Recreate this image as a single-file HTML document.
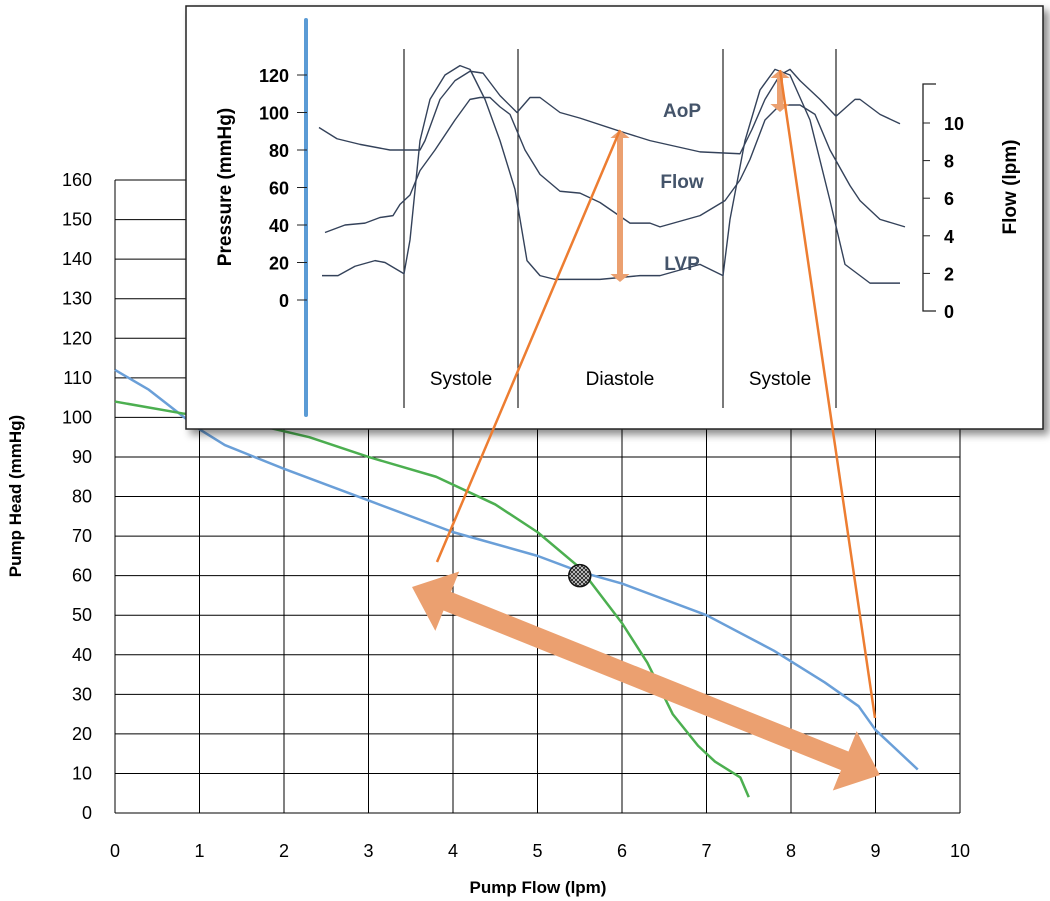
<!DOCTYPE html>
<html><head><meta charset="utf-8"><style>
body{margin:0;background:#fff;width:1050px;height:901px;overflow:hidden;font-family:"Liberation Sans",sans-serif}
</style></head><body>
<svg id="s" width="1050" height="901" style="position:absolute;left:0;top:0">
<defs>
<filter id="sh" x="-5%" y="-5%" width="115%" height="115%"><feDropShadow dx="5" dy="5" stdDeviation="4" flood-color="#000" flood-opacity="0.45"/></filter>
<pattern id="hatch" width="4" height="4" patternUnits="userSpaceOnUse"><rect width="4" height="4" fill="#fff"/><path d="M0 0L4 4M4 0L0 4" stroke="#333" stroke-width="1.2"/></pattern>
</defs>
<g id="main"></g>
<g id="inset"></g>
<g id="over"></g>
</svg>
<script>
const xTicks=[0,1,2,3,4,5,6,7,8,9,10];
const yTicks=[0,10,20,30,40,50,60,70,80,90,100,110,120,130,140,150,160];
const blueFlow=[0,0.4,1,1.3,2,3,4,5,5.5,6,7,7.8,8.4,8.8,9,9.5];
const blueHead=[112,107,97,93,87,79,71,65,61,58,50,41,33,27,21,11];
const greenFlow=[0,0.8,1.5,2.3,3,3.8,4.5,5,5.5,6,6.3,6.6,6.9,7.1,7.4,7.5];
const greenHead=[104,101,99,95,90,85,78,71,62,48,38,25,17,13,9,4];
const opPoint=[5.5,60];
const pTicks=[0,20,40,60,80,100,120];
const fTicks=[0,2,4,6,8,10];
const waveT_aop=[0,18,41,71,101,106,121,136,151,164,181,198,211,221,241,261,301,331,381,421,433,446,461,471,481,501,517,536,541,561,581];
const waveP_aop=[92,86,83,80,80,85,107,117,122,121,109,100,108,108,100,97,90,85,79,78,91,107,120,123,117,107,98,107,107,99,94];
const waveT_flow=[6,16,26,46,61,74,81,91,101,116,136,151,161,171,181,191,206,221,241,261,281,311,331,341,361,381,406,421,431,446,461,481,496,511,531,541,561,586];
const waveP_flow=[36,38,40,41,44,45,51,56,69,80,96,107,108,108,103,99,80,67,58,57,52,41,41,39,42,45,53,64,75,96,104,104,99,80,61,53,43,39];
const waveT_lvp=[3,19,36,56,66,85,91,101,111,126,141,151,166,181,196,208,221,236,281,321,341,361,381,404,411,426,441,456,471,491,511,526,551,581];
const waveP_lvp=[13,13,18,21,20,14,32,85,107,120,125,123,107,85,59,21,13,11,11,13,13,16,19,13,43,85,112,123,120,96,53,19,9,9];

const NS="http://www.w3.org/2000/svg";
function el(p,t,a){const e=document.createElementNS(NS,t);for(const k in a)e.setAttribute(k,a[k]);p.appendChild(e);return e;}
const X=v=>115+v*84.5, Y=v=>813-v*3.956;
const TX=t=>319+t, PY=p=>300-p*1.875, FY=f=>311-f*18.8;
const main=document.getElementById('main'),inset=document.getElementById('inset'),over=document.getElementById('over');

xTicks.forEach(v=>{const l=el(main,'line',{x1:X(v),x2:X(v),y1:Y(160),y2:Y(0),stroke:'#000','stroke-width':1});

const t=el(main,'text',{x:X(v),y:857,'text-anchor':'middle','font-size':18});t.textContent=v;
});
yTicks.forEach(v=>{const l=el(main,'line',{x1:X(0),x2:X(10),y1:Y(v),y2:Y(v),stroke:'#000','stroke-width':1});

const t=el(main,'text',{x:92,y:Y(v)+6,'text-anchor':'end','font-size':18});t.textContent=v;
});
let t=el(main,'text',{x:538,y:893,'text-anchor':'middle','font-size':17,'font-weight':'bold'});t.textContent='Pump Flow (lpm)';

t=el(main,'text',{x:0,y:0,'text-anchor':'middle','font-size':17,'font-weight':'bold',transform:'translate(21,496) rotate(-90)'});t.textContent='Pump Head (mmHg)';

function poly(g,xs,ys,fx,fy,attrs){return el(g,'polyline',Object.assign({points:xs.map((x,i)=>fx(x)+','+fy(ys[i])).join(' '),fill:'none','stroke-linejoin':'round'},attrs));}
let p=poly(main,blueFlow,blueHead,X,Y,{stroke:'#6a9fd8','stroke-width':2.5});

p=poly(main,greenFlow,greenHead,X,Y,{stroke:'#4caf50','stroke-width':2.5});


// inset
let r=el(inset,'rect',{x:186,y:6,width:857,height:423,fill:'#fff',stroke:'#222','stroke-width':1.5,filter:'url(#sh)'});

let l=el(inset,'line',{x1:306,x2:306,y1:20,y2:415,stroke:'#5b9bd5','stroke-width':4,'stroke-linecap':'round'});

pTicks.forEach(v=>{el(inset,'line',{x1:297,x2:307,y1:PY(v),y2:PY(v),stroke:'#222'});
const tt=el(inset,'text',{x:289,y:PY(v)+7,'text-anchor':'end','font-size':18,'font-weight':'bold'});tt.textContent=v;
});
t=el(inset,'text',{x:0,y:0,'text-anchor':'middle','font-size':19,'font-weight':'bold',transform:'translate(231,187) rotate(-90)'});t.textContent='Pressure (mmHg)';

el(inset,'polyline',{points:'936,84 923,84 923,311 936,311',fill:'none',stroke:'#222','stroke-width':1.3});
fTicks.forEach(v=>{el(inset,'line',{x1:923,x2:930,y1:FY(v),y2:FY(v),stroke:'#222'});
const tt=el(inset,'text',{x:944,y:FY(v)+7,'font-size':18,'font-weight':'bold'});tt.textContent=v;
});
t=el(inset,'text',{x:0,y:0,'text-anchor':'middle','font-size':19,'font-weight':'bold',transform:'translate(1016,187) rotate(-90)'});t.textContent='Flow (lpm)';

[404,518,723,836].forEach(x=>{const d=el(inset,'line',{x1:x,x2:x,y1:49,y2:408,stroke:'#222','stroke-width':1.2});
});
[['Systole',461],['Diastole',620],['Systole',780]].forEach(a=>{const tt=el(inset,'text',{x:a[1],y:385,'text-anchor':'middle','font-size':19});tt.textContent=a[0];
});
[['AoP',110],['Flow',181],['LVP',263]].forEach(a=>{const tt=el(inset,'text',{x:682,y:a[1]+7,'text-anchor':'middle','font-size':19,'font-weight':'bold',fill:'#44546a'});tt.textContent=a[0];
});
p=poly(inset,waveT_aop,waveP_aop,TX,PY,{stroke:'#34425a','stroke-width':1.4});
p=poly(inset,waveT_flow,waveP_flow,TX,PY,{stroke:'#34425a','stroke-width':1.4});
p=poly(inset,waveT_lvp,waveP_lvp,TX,PY,{stroke:'#34425a','stroke-width':1.4});

// overlays
function dbl(x1,y1,x2,y2,w,h,col,name){const g=el(over,'g',{});
const dx=x2-x1,dy=y2-y1,L=Math.hypot(dx,dy),ux=dx/L,uy=dy/L,nx=-uy,ny=ux;
const pts=[[x1,y1],[x1+ux*h+nx*w*1.6,y1+uy*h+ny*w*1.6],[x1+ux*h+nx*w/2,y1+uy*h+ny*w/2],[x2-ux*h+nx*w/2,y2-uy*h+ny*w/2],[x2-ux*h+nx*w*1.6,y2-uy*h+ny*w*1.6],[x2,y2],[x2-ux*h-nx*w*1.6,y2-uy*h-ny*w*1.6],[x2-ux*h-nx*w/2,y2-uy*h-ny*w/2],[x1+ux*h-nx*w/2,y1+uy*h-ny*w/2],[x1+ux*h-nx*w*1.6,y1+uy*h-ny*w*1.6]];
el(g,'polygon',{points:pts.map(q=>q.join(',')).join(' '),fill:col});}
dbl(620,130,620,282,6,8,'#eba070','diastole-pressure-arrow');
dbl(780,70,780,112,6,8,'#eba070','systole-pressure-arrow');
l=el(over,'line',{x1:437,y1:562,x2:620,y2:130,stroke:'#ed7d31','stroke-width':2.5});
l=el(over,'line',{x1:875,y1:718,x2:780,y2:70,stroke:'#ed7d31','stroke-width':2.5});
dbl(412,587,880,775,20,38,'#eba070','flow-range-arrow');
const c=el(over,'circle',{cx:X(opPoint[0]),cy:Y(opPoint[1]),r:11,fill:'url(#hatch)',stroke:'#111','stroke-width':1.5});

</script>
</body></html>
